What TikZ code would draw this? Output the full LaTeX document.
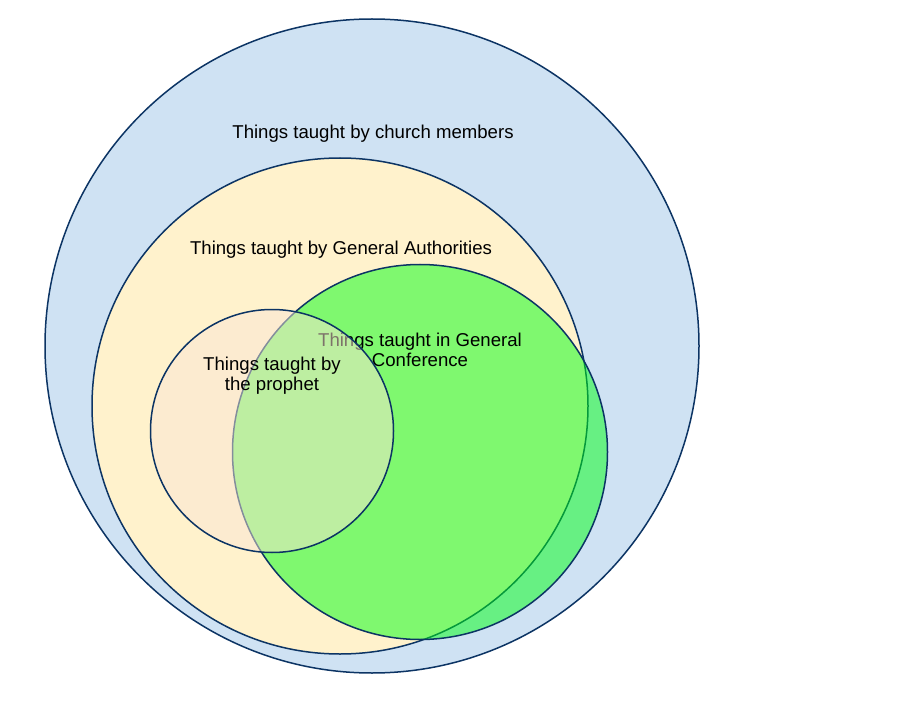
\documentclass[tikz,border=0pt]{standalone}
\usepackage{fontspec}
\setmainfont{Liberation Sans}
\definecolor{navy}{RGB}{12,52,100}
\definecolor{bluefill}{RGB}{207,226,243}
\definecolor{yellowfill}{RGB}{255,242,204}
\definecolor{greenfill}{RGB}{0,255,20}
\definecolor{peachfill}{RGB}{251,230,212}
\begin{document}
\begin{tikzpicture}[x=1pt,y=-1pt,
  ring/.style={draw=navy,line width=1.5pt,circle,inner sep=0pt},
  lbl/.style={font=\fontsize{18.6}{20}\selectfont,align=center,text=black,inner sep=0pt}]
\useasboundingbox (0,0) rectangle (924,722);
\node[ring,fill=bluefill,minimum size=654pt] (church) at (372,346) {};
\node[ring,fill=yellowfill,minimum size=496pt] (ga) at (340,406) {};
\node[ring,fill=greenfill,fill opacity=0.5,minimum size=375pt] (gc) at (420,452) {};
\node[lbl] (tchurch) at (373,134) {Things taught by church members};
\node[lbl] (tga) at (341,250) {Things taught by General Authorities};
\node[lbl] (tgc) at (420,350) {Things taught in General\\Conference};
\node[ring,fill=peachfill,fill opacity=0.5,minimum size=243pt] (prophet) at (272,431) {};
\node[lbl] (tprophet) at (272,376) {Things taught by\\the prophet};
\end{tikzpicture}
\end{document}
